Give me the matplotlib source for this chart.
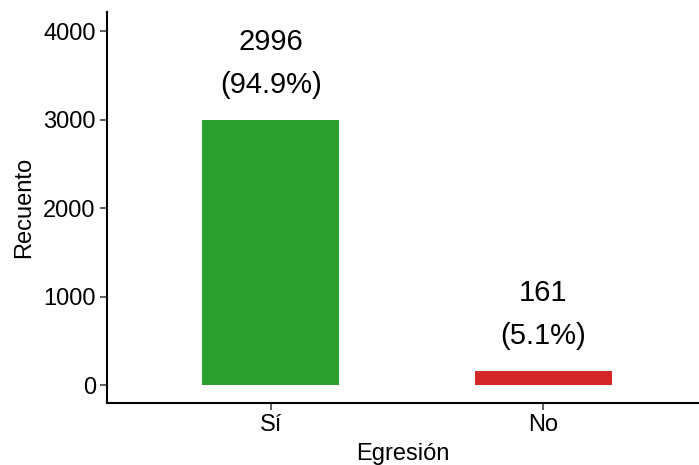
import matplotlib.pyplot as plt

# datos
categorias = ["Sí", "No"]
recuentos = [2996, 161]
porcentajes = [94.9, 5.1]
colores = ["#2ca02c", "#d62728"]

plt.rcParams['font.family'] = ['Liberation Sans', 'DejaVu Sans']

fig = plt.figure(figsize=(6.99, 4.65), dpi=100)
ax = fig.add_axes([0.153, 0.133, 0.847, 0.841])

pos = list(range(len(categorias)))
ax.bar(pos, recuentos, width=0.5, color=colores)

for x, n, p in zip(pos, recuentos, porcentajes):
    ax.text(x, n + 880, str(n), ha='center', va='center', fontsize=21)
    ax.text(x, n + 394, f"({p}%)", ha='center', va='center', fontsize=21)

ax.set_xlim(-0.6, 1.57)
ax.set_ylim(-203, 4215)
ax.set_xticks(pos)
ax.set_xticklabels(categorias)
ax.set_yticks([0, 1000, 2000, 3000, 4000])

ax.spines['top'].set_visible(False)
ax.spines['right'].set_visible(False)
for s in ['left', 'bottom']:
    ax.spines[s].set_linewidth(1.5)
ax.tick_params(axis='both', labelsize=17, length=5, width=1.2, color='#444444',
               labelcolor='black', pad=3)

ax.set_xlabel("Egresión", fontsize=17, labelpad=5)
ax.set_ylabel("Recuento", fontsize=17, labelpad=6)

fig.savefig("out.png", dpi=100)
